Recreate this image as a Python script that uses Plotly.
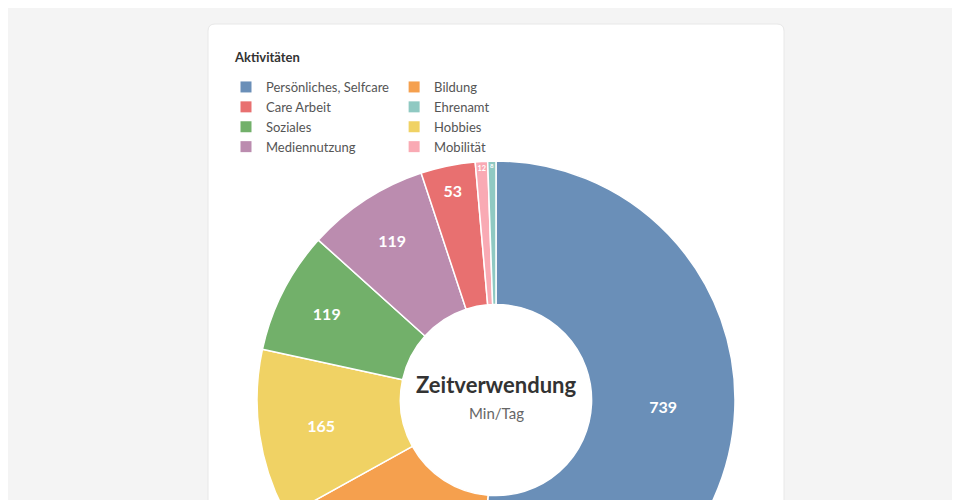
import plotly.graph_objects as go

labels = ["Persönliches, Selfcare", "Bildung", "Care Arbeit", "Ehrenamt",
          "Soziales", "Hobbies", "Mediennutzung", "Mobilität"]
values = [739, 225, 53, 8, 119, 165, 119, 12]
colors = ["#6a8fb8", "#f5a04e", "#e87070", "#8fc9c2",
          "#72b06a", "#f0d264", "#bb8caf", "#f9aab4"]

W, H = 960, 720
ML, MR = 222, 208
PW = W - ML - MR
OFF = 8  # page body margin


def px(x):
    return (x - OFF - ML) / PW


def py(y):
    return 1 - (y - OFF) / H


fig = go.Figure()
fig.add_trace(go.Pie(
    labels=labels, values=values, marker=dict(colors=colors, line=dict(color="white", width=1.5)),
    hole=0.4, sort=True, direction="clockwise", rotation=0,
    texttemplate="<b>%{value}</b>", textposition="inside", insidetextorientation="horizontal",
    textfont=dict(color="white", size=16, family="Lato"),
    domain=dict(x=[px(257), px(735)], y=[py(639), py(161)]),
    hoverinfo="label+value", showlegend=False,
))

# legend entries in data order
for lab, col in zip(labels, colors):
    fig.add_trace(go.Scatter(x=[None], y=[None], mode="markers", name=lab,
                             marker=dict(symbol="square", size=11, color=col)))

# card background with rounded corners
x0, x1, y0, y1 = px(208), px(784), py(24), py(760)
rx, ry = 7 / PW, 7 / H
path = (f"M {x0+rx},{y0} L {x1-rx},{y0} Q {x1},{y0} {x1},{y0-ry} "
        f"L {x1},{y1} L {x0},{y1} L {x0},{y0-ry} Q {x0},{y0} {x0+rx},{y0} Z")
fig.add_shape(type="path", path=path, xref="paper", yref="paper",
              fillcolor="white", line=dict(color="#e8e8e8", width=1), layer="below")

fig.add_annotation(text="<b>Aktivitäten</b>", x=px(232), y=py(57), xref="paper", yref="paper",
                   xanchor="left", yanchor="middle", showarrow=False,
                   font=dict(size=13, color="#333", family="Lato"))
fig.add_annotation(text="<b>Zeitverwendung</b>", x=px(496), y=py(384), xref="paper", yref="paper",
                   showarrow=False, font=dict(size=22, color="#333", family="Lato"))
fig.add_annotation(text="Min/Tag", x=px(496), y=py(413), xref="paper", yref="paper",
                   showarrow=False, font=dict(size=15, color="#666", family="Lato"))

fig.update_xaxes(visible=False)
fig.update_yaxes(visible=False)
fig.update_layout(
    width=W, height=H, margin=dict(l=ML, r=MR, t=0, b=0),
    paper_bgcolor="#f4f4f4", plot_bgcolor="rgba(0,0,0,0)",
    legend=dict(orientation="h", x=px(226), y=py(72), xanchor="left", yanchor="top",
                font=dict(size=13, color="#555", family="Lato"), traceorder="normal",
                bgcolor="rgba(0,0,0,0)", itemclick=False, itemdoubleclick=False),
)
fig.write_html("out.html")
